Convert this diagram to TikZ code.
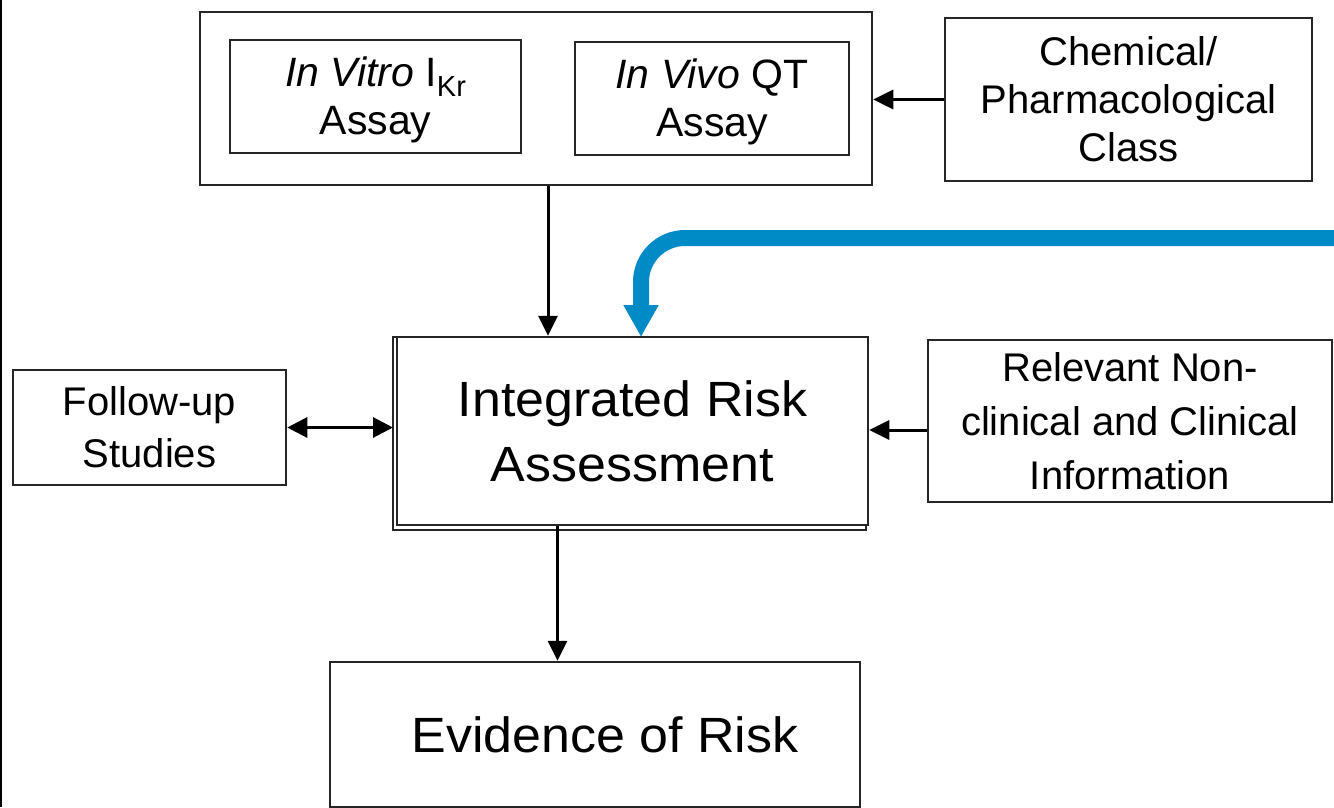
\documentclass[tikz,border=0pt]{standalone}
\usepackage{fontspec}
\setmainfont{Liberation Sans}
\newfontfamily\titlefont[FakeStretch=1.05]{Liberation Sans}
\usetikzlibrary{arrows.meta,calc}
\definecolor{flowblue}{RGB}{0,138,198}
\definecolor{boxline}{gray}{0.15}

\begin{document}
\begin{tikzpicture}[x=1pt,y=-1pt,
  box/.style={draw=boxline, line width=2.5pt, inner sep=0pt, align=center, fill=white},
  smalltext/.style={font=\fontsize{40}{#1}\selectfont},
  smalltext/.default=50,
  assaytext/.style={font=\fontsize{41}{48}\selectfont},
  bigtext/.style={font=\titlefont\fontsize{49.5}{65}\selectfont},
  conn/.style={draw=black, line width=3pt, -{Triangle[length=20pt,width=19pt]}},
  biconn/.style={draw=black, line width=3pt, {Triangle[length=20pt,width=20pt]}-{Triangle[length=20pt,width=20pt]}},
  feedback/.style={draw=flowblue, line width=16pt, rounded corners=44pt,
    -{Triangle[length=32pt,width=33pt]}}
]
\useasboundingbox (0,0) rectangle (1334,807);
\clip (0,0) rectangle (1334,807);

% left page edge
\draw[black, line width=1.5pt] (0.75,0) -- (0.75,807);

% assay group
\node[box, minimum width=672pt, minimum height=173pt] (outer) at (536,98.5) {};
\node[box, assaytext, minimum width=291pt, minimum height=113pt] (vitro) at (375.5,96.5)
  {\rule{0pt}{36pt}\textit{In Vitro} I\raisebox{-10pt}{\fontsize{29}{29}\selectfont Kr}\\Assay};
\node[box, assaytext, minimum width=274pt, minimum height=113pt] (vivo) at (712,98.5)
  {\rule{0pt}{36pt}\textit{In Vivo} QT\\Assay};

% side inputs
\node[box, smalltext=48, minimum width=367pt, minimum height=163pt] (chem) at (1128.5,99.5)
  {Chemical/\\Pharmacological\\Class};
\node[box, smalltext=52, minimum width=273pt, minimum height=115pt] (follow) at (149.5,427.5)
  {Follow-up\\Studies};
\node[box, smalltext=54, minimum width=404pt, minimum height=162pt] (relev) at (1130,421)
  {Relevant Non-\\clinical and Clinical\\Information};

% central assessment with its offset frame
\draw[boxline, line width=1.5pt] (393,337) rectangle (866,530);
\node[box, bigtext, minimum width=471pt, minimum height=188pt] (integ) at (632.5,431)
  {Integrated Risk\\Assessment};

% outcome
\node[box, bigtext, minimum width=530pt, minimum height=145pt] (evid) at (595,734.5)
  {\hspace*{20pt}Evidence of Risk};

% connectors
\draw[conn] ([xshift=12pt]outer.south) -- ([xshift=12pt]outer.south |- integ.north);
\draw[conn] (chem.west) -- (chem.west -| outer.east);
\draw[conn] ([yshift=-9pt]relev.west) -- ([yshift=-9pt]relev.west -| integ.east);
\draw[biconn] (follow.east) -- (follow.east -| 393,0);
\draw[conn] ([xshift=-75pt]integ.south) -- ([xshift=-75pt]integ.south |- evid.north);

% feedback loop entering from the right
\coordinate (loopin) at (1345,238);
\draw[feedback] (loopin) -- (loopin -| 641,0) -- (641,337);
\end{tikzpicture}
\end{document}
